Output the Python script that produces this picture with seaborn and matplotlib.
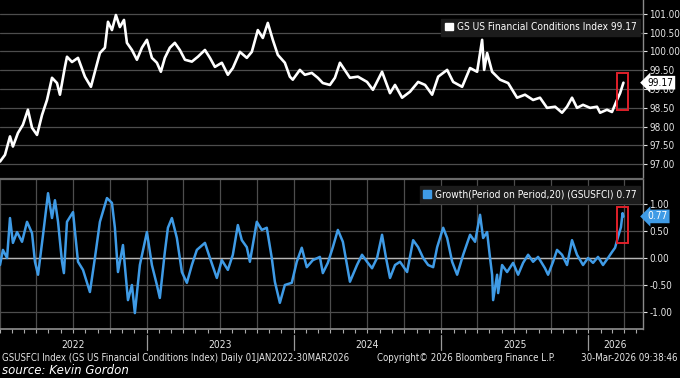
import numpy as np
import pandas as pd
import matplotlib
matplotlib.use("Agg")
import matplotlib.pyplot as plt
import matplotlib.dates as mdates
from matplotlib.patches import Patch, Rectangle
from matplotlib.ticker import NullFormatter, FormatStrFormatter
import seaborn as sns

# ---------------- data (decimal year, value) ----------------
fci_t = [2022.000, 2022.034, 2022.068, 2022.088, 2022.122, 2022.156, 2022.190, 2022.218, 2022.252, 2022.286,
         2022.320, 2022.354, 2022.388, 2022.408, 2022.442, 2022.456, 2022.490, 2022.531, 2022.578, 2022.619,
         2022.646, 2022.680, 2022.714, 2022.735, 2022.762, 2022.789, 2022.816, 2022.844, 2022.864, 2022.898,
         2022.932, 2022.966, 2023.000, 2023.034, 2023.068, 2023.095, 2023.122, 2023.156, 2023.190, 2023.224,
         2023.259, 2023.306, 2023.347, 2023.395, 2023.429, 2023.463, 2023.510, 2023.551, 2023.585, 2023.633,
         2023.680, 2023.714, 2023.755, 2023.789, 2023.823, 2023.857, 2023.891, 2023.939, 2023.973, 2023.993,
         2024.041, 2024.075, 2024.122, 2024.163, 2024.197, 2024.245, 2024.279, 2024.313, 2024.381, 2024.435,
         2024.497, 2024.537, 2024.599, 2024.653, 2024.687, 2024.735, 2024.789, 2024.844, 2024.891, 2024.939,
         2024.980, 2025.041, 2025.082, 2025.143, 2025.197, 2025.245, 2025.279, 2025.293, 2025.313, 2025.347,
         2025.401, 2025.456, 2025.517, 2025.571, 2025.626, 2025.673, 2025.721, 2025.776, 2025.823, 2025.857,
         2025.891, 2025.925, 2025.966, 2026.014, 2026.061, 2026.082, 2026.129, 2026.163, 2026.197, 2026.218,
         2026.241]
fci_v = [97.07, 97.25, 97.74, 97.47, 97.83, 98.05, 98.45, 97.97, 97.78, 98.31,
         98.71, 99.30, 99.16, 98.85, 99.59, 99.86, 99.72, 99.83, 99.33, 99.06,
         99.46, 99.96, 100.10, 100.79, 100.57, 100.97, 100.65, 100.84, 100.23, 100.04,
         99.78, 100.10, 100.31, 99.83, 99.70, 99.46, 99.83, 100.10, 100.23, 100.04,
         99.78, 99.73, 99.86, 100.04, 99.83, 99.59, 99.70, 99.38, 99.56, 99.99,
         99.83, 99.99, 100.57, 100.36, 100.76, 100.31, 99.91, 99.70, 99.33, 99.25,
         99.51, 99.38, 99.43, 99.30, 99.16, 99.11, 99.30, 99.70, 99.30, 99.33,
         99.19, 98.98, 99.46, 98.89, 99.11, 98.77, 98.93, 99.19, 99.11, 98.85,
         99.33, 99.51, 99.19, 99.06, 99.56, 99.46, 100.31, 99.51, 99.96, 99.46,
         99.25, 99.16, 98.77, 98.85, 98.71, 98.77, 98.50, 98.53, 98.37, 98.53,
         98.77, 98.50, 98.58, 98.50, 98.53, 98.37, 98.45, 98.39, 98.71, 98.89,
         99.17]

gr_t = [2022.000, 2022.020, 2022.048, 2022.068, 2022.088, 2022.116, 2022.150, 2022.184, 2022.218, 2022.238,
        2022.259, 2022.293, 2022.327, 2022.354, 2022.374, 2022.395, 2022.422, 2022.435, 2022.456, 2022.497,
        2022.531, 2022.565, 2022.612, 2022.646, 2022.680, 2022.728, 2022.762, 2022.782, 2022.803, 2022.837,
        2022.871, 2022.898, 2022.918, 2022.952, 2023.000, 2023.034, 2023.068, 2023.088, 2023.122, 2023.143,
        2023.170, 2023.204, 2023.238, 2023.272, 2023.306, 2023.340, 2023.395, 2023.429, 2023.476, 2023.510,
        2023.551, 2023.585, 2023.619, 2023.646, 2023.680, 2023.701, 2023.748, 2023.782, 2023.816, 2023.850,
        2023.871, 2023.905, 2023.939, 2023.986, 2024.020, 2024.054, 2024.088, 2024.129, 2024.177, 2024.197,
        2024.231, 2024.265, 2024.299, 2024.333, 2024.361, 2024.381, 2024.429, 2024.463, 2024.497, 2024.531,
        2024.565, 2024.599, 2024.626, 2024.653, 2024.687, 2024.721, 2024.769, 2024.810, 2024.844, 2024.878,
        2024.912, 2024.946, 2024.973, 2025.014, 2025.041, 2025.075, 2025.109, 2025.150, 2025.197, 2025.231,
        2025.265, 2025.286, 2025.313, 2025.333, 2025.347, 2025.354, 2025.381, 2025.388, 2025.415, 2025.449,
        2025.490, 2025.524, 2025.558, 2025.592, 2025.626, 2025.660, 2025.707, 2025.728, 2025.762, 2025.789,
        2025.823, 2025.857, 2025.891, 2025.925, 2025.966, 2026.000, 2026.034, 2026.068, 2026.102, 2026.136,
        2026.163, 2026.184, 2026.204, 2026.224, 2026.235, 2026.241]
gr_v = [-0.13, 0.15, 0.00, 0.74, 0.28, 0.48, 0.30, 0.67, 0.46, -0.07,
        -0.31, 0.43, 1.20, 0.74, 1.07, 0.67, -0.07, -0.28, 0.67, 0.85,
        -0.07, -0.22, -0.63, 0.00, 0.67, 1.11, 1.02, 0.56, -0.26, 0.24,
        -0.78, -0.50, -1.02, -0.13, 0.48, -0.13, -0.50, -0.74, 0.11, 0.56,
        0.74, 0.37, -0.26, -0.46, -0.13, 0.15, 0.28, 0.00, -0.37, -0.04,
        -0.22, 0.06, 0.61, 0.33, 0.20, -0.07, 0.67, 0.52, 0.56, 0.00,
        -0.44, -0.83, -0.50, -0.46, -0.07, 0.19, -0.17, -0.04, 0.02, -0.28,
        -0.09, 0.20, 0.52, 0.30, -0.13, -0.44, -0.13, 0.06, -0.07, -0.19,
        0.00, 0.43, 0.00, -0.37, -0.13, -0.07, -0.26, 0.33, 0.20, 0.00,
        -0.13, -0.17, 0.20, 0.56, 0.37, -0.07, -0.31, 0.06, 0.43, 0.30,
        0.80, 0.37, 0.48, 0.00, -0.31, -0.78, -0.31, -0.65, -0.13, -0.26,
        -0.09, -0.31, -0.09, 0.06, -0.07, 0.02, -0.19, -0.31, -0.07, 0.15,
        0.06, -0.13, 0.33, 0.06, -0.13, 0.00, -0.09, 0.02, -0.13, 0.00,
        0.11, 0.19, 0.39, 0.57, 0.83, 0.77]

year_labels = ["2022", "2023", "2024", "2025", "2026"]
fci_ticks = [97.0, 97.5, 98.0, 98.5, 99.0, 99.5, 100.0, 100.5, 101.0]
gr_ticks = [-1.0, -0.5, 0.0, 0.5, 1.0]
fci_name = "GS US Financial Conditions Index"
gr_name = "Growth(Period on Period,20) (GSUSFCI)"
footer_left = "GSUSFCI Index (GS US Financial Conditions Index) Daily 01JAN2022-30MAR2026"
footer_mid = "Copyright\u00a9 2026 Bloomberg Finance L.P."
footer_right = "30-Mar-2026 09:38:46"
source_txt = "source: Kevin Gordon"


def to_date(t):
    y = int(np.floor(t))
    s = pd.Timestamp(year=y, month=1, day=1)
    e = pd.Timestamp(year=y + 1, month=1, day=1)
    return s + (e - s) * (t - y)


assert len(fci_t) == len(fci_v) and len(gr_t) == len(gr_v)
df_fci = pd.DataFrame({"date": [to_date(t) for t in fci_t], "value": fci_v})
df_gr = pd.DataFrame({"date": [to_date(t) for t in gr_t], "value": gr_v})

sns.set_theme(style="dark")
plt.rcParams["font.family"] = ["DejaVu Sans"]
plt.rcParams["font.stretch"] = "condensed"

BG = "black"
GRID = "#4d4d4d"
BLUE = "#3f9be6"
TXT = "#e6e6e6"

fig = plt.figure(figsize=(6.8, 3.78), dpi=100, facecolor=BG)
ax1 = fig.add_axes([0.0, 1 - 177 / 378, 643 / 680, 177 / 378])
ax2 = fig.add_axes([0.0, 1 - 329 / 378, 643 / 680, 150 / 378], sharex=ax1)

for ax in (ax1, ax2):
    ax.set_facecolor(BG)

sns.lineplot(data=df_fci, x="date", y="value", ax=ax1, color="white", lw=1.9)
sns.lineplot(data=df_gr, x="date", y="value", ax=ax2, color=BLUE, lw=1.8)

xmin = to_date(2022.0)
xmax = to_date(2022.0 + 643 / 147)
ax1.set_xlim(xmin, xmax)
ax1.set_ylim(96.66, 101.37)
ax2.set_ylim(-1.315, 1.463)

for ax in (ax1, ax2):
    ax.set_xlabel("")
    ax.set_ylabel("")
    ax.yaxis.tick_right()
    ax.yaxis.set_major_formatter(FormatStrFormatter("%.2f"))
    ax.tick_params(axis="y", colors=TXT, labelsize=7.1, length=3, width=0.8,
                   direction="out", pad=1.5)
    for sp in ("left", "top", "bottom"):
        ax.spines[sp].set_visible(False)
    ax.spines["right"].set_color("#8a8a8a")
    ax.spines["right"].set_linewidth(1.0)

ax1.set_yticks(fci_ticks)
ax2.set_yticks(gr_ticks)

# upper grid: horizontal only
ax1.grid(False)
ax1.yaxis.grid(True, color=GRID, lw=0.9)
ax1.tick_params(axis="x", bottom=False, labelbottom=False)

# lower grid: quarters + horizontal
ax2.xaxis.set_major_locator(mdates.MonthLocator(bymonth=[1, 4, 7, 10]))
ax2.xaxis.set_minor_locator(mdates.MonthLocator())
ax2.xaxis.set_major_formatter(NullFormatter())
ax2.grid(True, which="major", color=GRID, lw=0.9)
ax2.axhline(0, color="#b5b5b5", lw=1.0, zorder=1)
ax2.tick_params(axis="x", which="both", bottom=True, labelbottom=False,
                length=3, width=0.8, color="#aaaaaa", direction="out")
ax2.spines["bottom"].set_visible(True)
ax2.spines["bottom"].set_color("#8a8a8a")
ax2.spines["top"].set_visible(True)
ax2.spines["top"].set_color("#6a6a6a")
ax2.spines["top"].set_linewidth(1.6)

# legends
leg_kw = dict(loc="upper right", frameon=True, fancybox=False, framealpha=1,
              facecolor="#1c1c1c", edgecolor="#1c1c1c", fontsize=7.3,
              labelcolor="white", handlelength=0.8, handleheight=0.8,
              handletextpad=0.4, borderpad=0.35, borderaxespad=0)
ax1.legend(handles=[Patch(facecolor="white", edgecolor="white")],
           labels=[f"{fci_name} {fci_v[-1]:.2f}"],
           bbox_to_anchor=(0.996, 0.895), **leg_kw)
ax2.legend(handles=[Patch(facecolor=BLUE, edgecolor=BLUE)],
           labels=[f"{gr_name} {gr_v[-1]:.2f}"],
           bbox_to_anchor=(0.996, 0.955), **leg_kw)

# value tags on the right axis
ax1.text(1.007, fci_v[-1], f"{fci_v[-1]:.2f}", transform=ax1.get_yaxis_transform(),
         ha="left", va="center", fontsize=7.3, color="black", clip_on=False,
         bbox=dict(boxstyle="larrow,pad=0.18", fc="white", ec="none"))
ax2.text(1.007, gr_v[-1], f"{gr_v[-1]:.2f}", transform=ax2.get_yaxis_transform(),
         ha="left", va="center", fontsize=7.3, color="white", clip_on=False,
         bbox=dict(boxstyle="larrow,pad=0.18", fc=BLUE, ec="none"))


# red highlight boxes around the latest move
def highlight(ax, t, v, pad):
    t_last = t[-1]
    sel = [val for tt, val in zip(t, v) if tt >= t_last - 0.045]
    x0 = mdates.date2num(to_date(t_last - 0.044))
    x1 = mdates.date2num(to_date(t_last + 0.031))
    y0, y1 = min(sel) - pad, max(sel) + pad
    ax.add_patch(Rectangle((x0, y0), x1 - x0, y1 - y0, fill=False,
                           ec="#e0202a", lw=1.4, zorder=5))


highlight(ax1, fci_t, fci_v, 0.27)
highlight(ax2, gr_t, gr_v, 0.12)

# year labels and separators under the lower panel
ytrans = ax2.get_xaxis_transform()
x_lo, x_hi = ax2.get_xlim()
for i, lab in enumerate(year_labels):
    y = int(lab)
    s = max(mdates.date2num(pd.Timestamp(year=y, month=1, day=1)), x_lo)
    e = min(mdates.date2num(pd.Timestamp(year=y + 1, month=1, day=1)), x_hi)
    ax2.text((s + e) / 2, -0.105, lab, transform=ytrans, ha="center", va="center",
             fontsize=7.4, color=TXT, clip_on=False)
    if i > 0:
        ax2.plot([s, s], [-0.04, -0.14], transform=ytrans, color="#9a9a9a",
                 lw=0.9, clip_on=False)

# footer
fy = 1 - 358 / 378
fig.text(0.003, fy, footer_left, fontsize=6.9, color=TXT, ha="left", va="center")
fig.text(0.555, fy, footer_mid, fontsize=6.9, color=TXT, ha="left", va="center")
fig.text(0.997, fy, footer_right, fontsize=6.9, color=TXT, ha="right", va="center")
fig.text(0.003, 1 - 371 / 378, source_txt, fontsize=8.5, color="white", ha="left",
         va="center", style="italic", fontstretch="normal", family=["DejaVu Sans"])

fig.savefig("out.png", dpi=100, facecolor=BG)
